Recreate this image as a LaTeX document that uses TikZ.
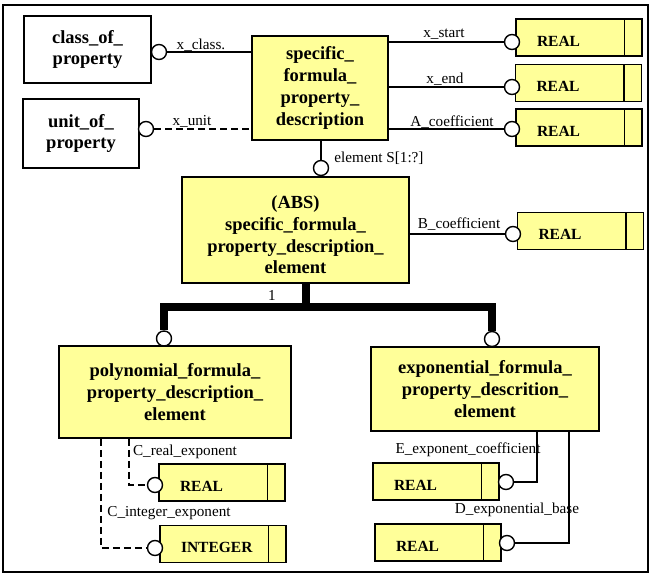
\documentclass[tikz,border=0pt]{standalone}
\usepackage{fontspec}
\setmainfont{Liberation Serif}
\definecolor{boxyellow}{RGB}{255,255,153}
\begin{document}
\begin{tikzpicture}[x=1pt,y=-1pt,
  ent/.style={draw, line width=1.6pt, fill=boxyellow, align=center, inner sep=0pt,
    font=\bfseries\fontsize{18.5}{21.7}\selectfont},
  whitebox/.style={ent, fill=white},
  typebox/.style={draw, line width=1.6pt, fill=boxyellow, inner xsep=21pt, inner ysep=0pt,
    text width=84pt, align=left, minimum height=37pt, text height=17pt, text depth=0pt,
    font=\bfseries\fontsize{15.5}{18}\selectfont,
    path picture={\draw[line width=1.6pt]
      ([xshift=-17.5pt]path picture bounding box.north east) --
      ([xshift=-17.5pt]path picture bounding box.south east);}},
  circ/.style={circle, draw, fill=white, line width=1.4pt, minimum size=15pt, inner sep=0pt},
  lbl/.style={font=\fontsize{15.2}{17}\selectfont, inner sep=0pt},
  conn/.style={line width=1.4pt},
  dconn/.style={conn, dash pattern=on 7pt off 4pt},
  thickconn/.style={line width=7.5pt}]
\useasboundingbox (0,0) rectangle (651,574);
\draw[line width=2pt] (3,5) rectangle (648,572);

% entities
\node[whitebox, minimum width=127pt, minimum height=67pt] (cop) at (87.5,49.5) {class\_of\_\\property};
\node[whitebox, minimum width=116pt, minimum height=69pt] (uop) at (81,133.5) {unit\_of\_\\property};
\node[ent, minimum width=136pt, minimum height=104pt] (sfpd) at (320,88) {specific\_\\formula\_\\property\_\\description};
\node[ent, minimum width=227pt, minimum height=106pt] (abs) at (295.5,230) {\rule{0pt}{23pt}(ABS)\\specific\_formula\_\\property\_description\_\\element};
\node[ent, minimum width=232pt, minimum height=92pt] (poly) at (175,392) {polynomial\_formula\_\\property\_description\_\\element};
\node[ent, minimum width=228pt, minimum height=84pt] (expo) at (485,389) {exponential\_formula\_\\property\_descrition\_\\element};

% type boxes
\node[typebox] (t1) at (579,37.5) {REAL};
\node[typebox] (t2) at (578.5,83) {REAL};
\node[typebox] (t3) at (579,127.5) {REAL};
\node[typebox] (t4) at (580.5,231) {REAL};
\node[typebox] (t5) at (222,482.5) {REAL};
\node[typebox] (t6) at (223,544) {INTEGER};
\node[typebox] (t7) at (436,481.5) {REAL};
\node[typebox] (t8) at (438,542.5) {REAL};

% circles
\node[circ] (ccls) at (159,52) {};
\node[circ] (cunit) at (146,129) {};
\node[circ] (cs) at (512,42) {};
\node[circ] (ce) at (512,87) {};
\node[circ] (ca) at (512,129) {};
\node[circ] (celem) at (321,168) {};
\node[circ] (cb) at (513,234) {};
\node[circ] (cpoly) at (164,338.5) {};
\node[circ] (cexpo) at (492,339) {};
\node[circ] (creal) at (155,485) {};
\node[circ] (cint) at (155,548) {};
\node[circ] (cE) at (506,482) {};
\node[circ] (cD) at (507,543) {};

% connectors
\draw[conn] (ccls) -- (sfpd.west |- ccls);
\draw[dconn] (cunit) -- (sfpd.west |- cunit);
\draw[conn] (sfpd.east |- cs) -- (cs);
\draw[conn] (sfpd.east |- ce) -- (ce);
\draw[conn] (sfpd.east |- ca) -- (ca);
\draw[conn] (celem |- sfpd.south) -- (celem);
\draw[conn] (abs.east |- cb) -- (cb);
\coordinate (j) at (306,307);
\draw[thickconn] (j |- abs.south) -- (j);
\draw[thickconn] (cpoly.north) -- (cpoly.north |- j) -- (cexpo.north |- j) -- (cexpo.north);
\draw[dconn] ([xshift=-46pt]poly.south) |- (creal);
\draw[dconn] ([xshift=-74pt]poly.south) |- (cint);
\draw[conn] ([xshift=52pt]expo.south) |- (cE);
\draw[conn] ([xshift=84pt]expo.south) |- (cD);

% labels
\node[lbl] (l1) at (201,45) {x\_class.};
\node[lbl] (l2) at (192,121) {x\_unit};
\node[lbl] (l3) at (444,34) {x\_start};
\node[lbl] (l4) at (445,79) {x\_end};
\node[lbl] (l5) at (452,122) {A\_coefficient};
\node[lbl] (l6) at (379,158) {element S[1:?]};
\node[lbl] (l7) at (459,224) {B\_coefficient};
\node[lbl] (l8) at (272,295) {1};
\node[lbl] (l9) at (185,452) {C\_real\_exponent};
\node[lbl] (l10) at (169,513) {C\_integer\_exponent};
\node[lbl] (l11) at (468,450) {E\_exponent\_coefficient};
\node[lbl] (l12) at (517,510) {D\_exponential\_base};
\end{tikzpicture}
\end{document}
